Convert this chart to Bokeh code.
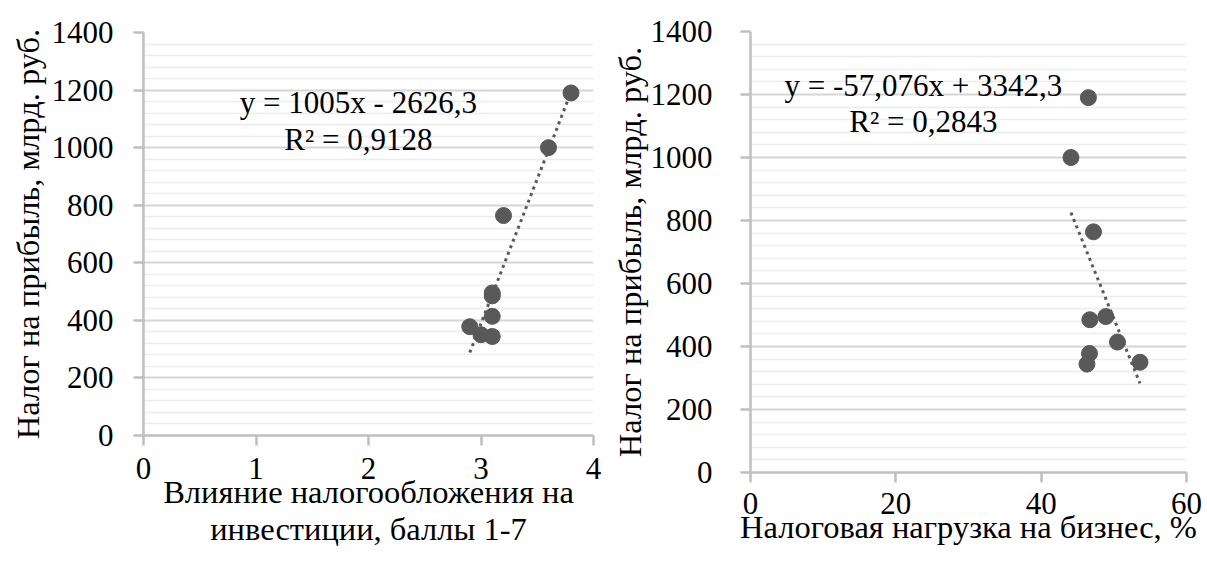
from bokeh.plotting import figure
from bokeh.layouts import row, column
from bokeh.models import Range1d, FixedTicker, Label
from bokeh.embed import file_html
from bokeh.resources import INLINE

# ---- data ----
profit_tax = [1190, 1000, 764, 495, 485, 414, 378, 350, 344]          # Налог на прибыль, млрд. руб.
tax_influence = [3.8, 3.6, 3.2, 3.1, 3.1, 3.1, 2.9, 3.0, 3.1]          # баллы 1-7
tax_burden = [46.5, 44.1, 47.2, 48.9, 46.7, 50.5, 46.65, 53.6, 46.3]   # %

fit_left = {"slope": 1005.0, "intercept": -2626.3, "r2": 0.9128}
fit_right = {"slope": -57.076, "intercept": 3342.3, "r2": 0.2843}

y_ticks = [0, 200, 400, 600, 800, 1000, 1200, 1400]
y_minor = [v for v in range(0, 1401, 40) if v % 200 != 0]
x_ticks_left = [0, 1, 2, 3, 4]
x_ticks_right = [0, 20, 40, 60]

y_title = "Налог на прибыль, млрд. руб."
x_title_left = "Влияние налогообложения на\nинвестиции, баллы 1-7"
x_title_right = "Налоговая нагрузка на бизнес, %"

FONT = "'Liberation Serif', 'Times New Roman', serif"
FS = "31px"
FS_TITLE = "32.5px"
AXIS = "#bfbfbf"
MARK = "#595959"


def fmt(v):
    return ("%g" % v).replace(".", ",")


def eq_text(fit):
    b = fit["intercept"]
    sign = "-" if b < 0 else "+"
    return "y = %sx %s %s" % (fmt(fit["slope"]), sign, fmt(abs(b)))


def make(xs, ys, fit, xr, xticks, xtitle, width, height, bl, br, bt, bb,
         tick_standoff_x, title_standoff_x, tick_standoff_y, title_standoff_y, eq_pos):
    p = figure(width=width, height=height, x_range=Range1d(*xr), y_range=Range1d(0, 1400),
               output_backend="svg", toolbar_location=None,
               min_border_left=bl, min_border_right=br, min_border_top=bt,
               min_border_bottom=bb)
    p.outline_line_color = None
    p.background_fill_color = "white"
    p.border_fill_color = "white"

    p.xgrid.grid_line_color = None
    p.ygrid.grid_line_color = "#d6d6d6"
    p.ygrid.grid_line_width = 2
    p.ygrid.minor_grid_line_color = "#ececec"
    p.ygrid.minor_grid_line_width = 1.5

    p.yaxis.ticker = FixedTicker(ticks=y_ticks, minor_ticks=y_minor)
    p.xaxis.ticker = FixedTicker(ticks=xticks)

    for ax in (p.xaxis[0], p.yaxis[0]):
        ax.axis_line_color = AXIS
        ax.axis_line_width = 2.5
        ax.major_tick_line_color = AXIS
        ax.major_tick_line_width = 2.5
        ax.major_tick_in = 0
        ax.major_tick_out = 10
        ax.minor_tick_line_color = None
        ax.major_label_text_font = FONT
        ax.major_label_text_font_size = FS
        ax.major_label_text_color = "black"
        ax.axis_label_text_font = FONT
        ax.axis_label_text_font_size = FS_TITLE
        ax.axis_label_text_font_style = "normal"
        ax.axis_label_text_color = "black"
        ax.axis_label_text_line_height = 1.05

    p.yaxis.axis_label = y_title
    p.yaxis.major_label_standoff = tick_standoff_y
    p.yaxis.axis_label_standoff = title_standoff_y
    p.xaxis.axis_label = xtitle
    p.xaxis.major_label_standoff = tick_standoff_x
    p.xaxis.axis_label_standoff = title_standoff_x

    # trendline over the data span
    x0, x1 = min(xs), max(xs)
    p.line([x0, x1], [fit["slope"] * x0 + fit["intercept"], fit["slope"] * x1 + fit["intercept"]],
           line_color=MARK, line_width=3, line_dash="3 4")
    p.scatter(xs, ys, size=16, fill_color=MARK, line_color=MARK)

    ex, ey1, ey2 = eq_pos
    p.add_layout(Label(x=ex, y=ey1, text=eq_text(fit), text_font=FONT, text_font_size=FS,
                       text_align="center", text_baseline="middle", text_color="black"))
    p.add_layout(Label(x=ex, y=ey2, text="R² = " + fmt(fit["r2"]), text_font=FONT,
                       text_font_size=FS, text_align="center", text_baseline="middle",
                       text_color="black"))
    return p


p1 = make(tax_influence, profit_tax, fit_left, (0, 4), x_ticks_left, x_title_left,
          608, 568, 143, 15, 32, 133, 12, -8, 20, 3, (1.91, 1158, 1028))
p2 = make(tax_burden, profit_tax, fit_right, (0, 60), x_ticks_right, x_title_right,
          598, 568, 136, 20, 31, 96, 10, -8, 28, 0, (23.8, 1228, 1115))

layout = row(column(p1), column(p2))
open("out.html", "w").write(file_html(layout, INLINE))
